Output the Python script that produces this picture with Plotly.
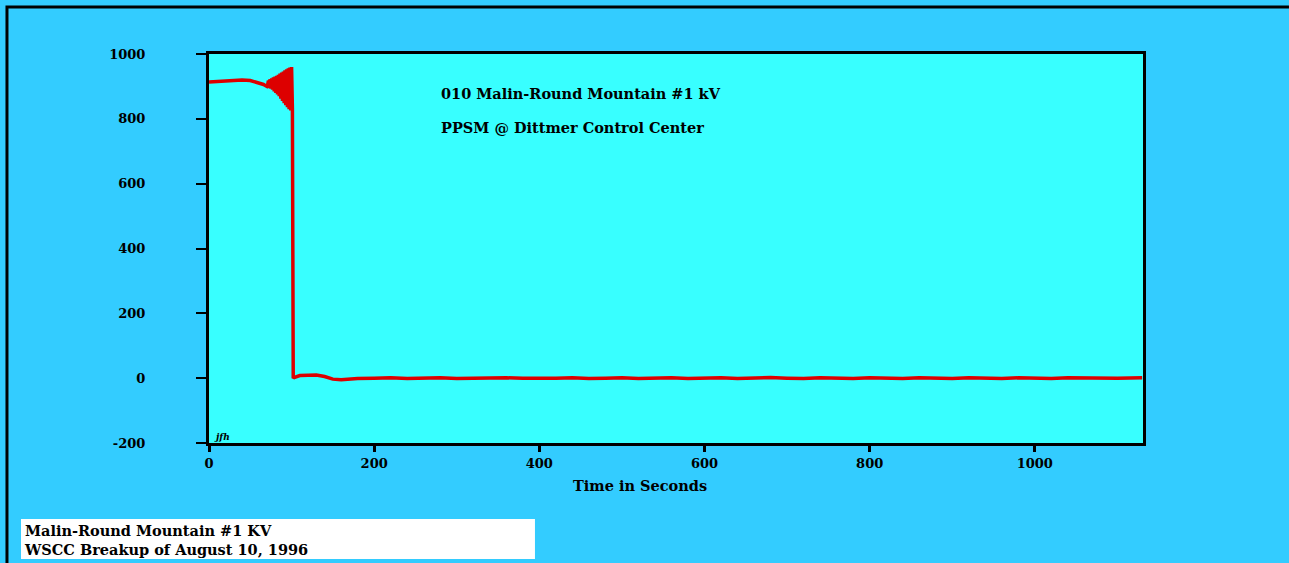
import plotly.graph_objects as go

# time (s) and voltage (kV)
time_s = [0, 10, 20, 30, 40, 50, 60, 66, 70, 71,
          72, 73, 74, 75, 76, 77, 78, 79, 80, 81, 82, 83, 84, 85, 86, 87,
          88, 89, 90, 91, 92, 93, 94, 95, 96, 97, 98, 99, 100, 101,
          102, 103, 110, 120, 130, 140, 150, 160, 170, 180, 200,
          220, 240, 260, 280, 300, 320, 340, 360, 380, 400, 420, 440, 460,
          480, 500, 520, 540, 560, 580, 600, 620, 640, 660, 680, 700, 720,
          740, 760, 780, 800, 820, 840, 860, 880, 900, 920, 940, 960, 980,
          1000, 1020, 1040, 1060, 1080, 1100, 1130]
kv = [914, 915, 916, 919, 920, 918, 912, 906, 900, 905,
      918, 895, 922, 893, 925, 890, 928, 885, 930, 880, 933, 875, 936, 870, 940, 862,
      943, 855, 946, 848, 950, 842, 953, 836, 956, 830, 958, 826, 960, 830,
      0, 2, 8, 9, 10, 5, -3, -5, -3, -1, 0,
      1, -1, 0, 1, -1, 0, -1, 1, 0, -1, 0, 1, -1,
      0, 1, -1, 0, 1, -1, 0, 1, -1, 0, 2, 0, -1,
      1, 0, -1, 1, 0, -1, 1, 0, -1, 1, 0, -1, 1,
      0, -1, 1, 0, 1, 0, 1]

x_ticks = [0, 200, 400, 600, 800, 1000]
y_ticks = [-200, 0, 200, 400, 600, 800, 1000]
y_labels = ['-200', '0', '200', '400', '600', '800', '1000']

title_lines = ['010 Malin-Round Mountain #1 kV', 'PPSM @ Dittmer Control Center']
caption = 'Malin-Round Mountain #1 KV<br>WSCC Breakup of August 10, 1996'

FONT = 'DejaVu Serif'
tick_font = dict(family=FONT, size=13, color='black', weight=700)
bold = dict(family=FONT, size=14.5, color='black', weight=700)

fig = go.Figure()
fig.add_trace(go.Scatter(x=time_s, y=kv, mode='lines',
                         line=dict(color='#DD0000', width=3.5),
                         showlegend=False))

fig.update_layout(
    width=1289, height=563,
    paper_bgcolor='#33CCFF', plot_bgcolor='#38FFFF',
    margin=dict(l=209, r=146, t=54, b=120),
    font=tick_font,
    xaxis=dict(range=[0, 1131], tickvals=x_ticks, showgrid=False, zeroline=False,
               showline=True, linecolor='black', linewidth=3, mirror=True,
               ticks='outside', ticklen=6, tickwidth=3, tickcolor='black',
               tickfont=tick_font),
    yaxis=dict(range=[-200, 1000], tickvals=y_ticks, ticktext=y_labels,
               showgrid=False, zeroline=False,
               showline=True, linecolor='black', linewidth=3, mirror=True,
               ticks='outside', ticklen=10, tickwidth=2, tickcolor='black',
               tickfont=tick_font, ticklabelstandoff=48),
)

# outer frame: top and left edges only (drawn as one open path)
fig.add_shape(type='path', xref='paper', yref='paper',
              path='M 1.1563,1.1208 L -0.2163,1.1208 L -0.2163,-0.3085',
              line=dict(color='black', width=3))
# caption box
fig.add_shape(type='rect', xref='paper', yref='paper', x0=-0.2013, x1=0.3490,
              y0=-0.2982, y1=-0.1954, fillcolor='white', line=dict(width=0))

fig.add_annotation(text=title_lines[0], xref='paper', yref='paper', x=0.2462, y=0.8972,
                   xanchor='left', yanchor='middle', showarrow=False, font=bold)
fig.add_annotation(text=title_lines[1], xref='paper', yref='paper', x=0.2462, y=0.8123,
                   xanchor='left', yanchor='middle', showarrow=False, font=bold)
fig.add_annotation(text='<i>jfh</i>', xref='paper', yref='paper', x=0.003, y=0.016,
                   xanchor='left', yanchor='middle', showarrow=False,
                   font=dict(family=FONT, size=9, color='black', weight=700))
fig.add_annotation(text='Time in Seconds', xref='paper', yref='paper', x=0.4615, y=-0.1105,
                   xanchor='center', yanchor='middle', showarrow=False, font=bold)
fig.add_annotation(text=caption, xref='paper', yref='paper', x=-0.2005, y=-0.2494,
                   xanchor='left', yanchor='middle', align='left', showarrow=False,
                   font=bold)

page_js = ("document.documentElement.style.overflow='hidden';"
           "document.body.style.margin='0';document.body.style.overflow='hidden';")
fig.write_html('out.html', config={'displayModeBar': False}, post_script=page_js)
